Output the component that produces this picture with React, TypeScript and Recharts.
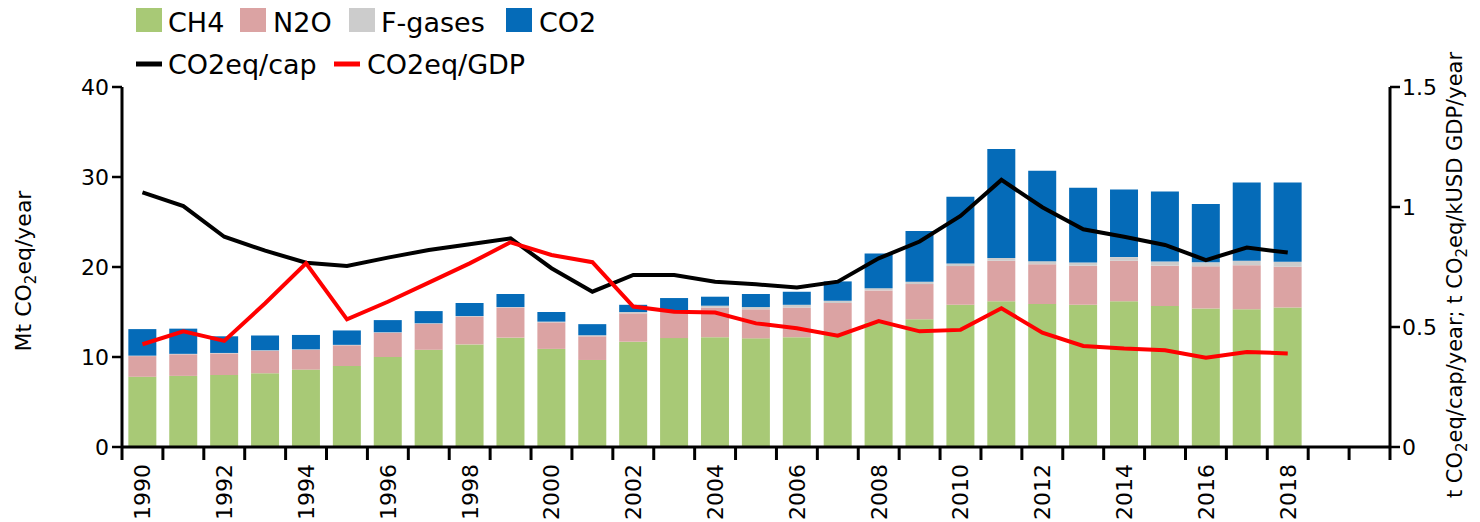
import { ComposedChart, Bar, Line, XAxis, YAxis } from "recharts";

const years = [
  "1990", "1991", "1992", "1993", "1994", "1995", "1996", "1997", "1998", "1999",
  "2000", "2001", "2002", "2003", "2004", "2005", "2006", "2007", "2008", "2009",
  "2010", "2011", "2012", "2013", "2014", "2015", "2016", "2017", "2018", "2019", "2020",
];
const ch4 = [
  7.8, 7.9, 8.0, 8.2, 8.6, 9.0, 10.0, 10.8, 11.4, 12.15,
  10.9, 9.67, 11.7, 12.1, 12.2, 12.07, 12.2, 12.55, 13.85, 14.2,
  15.8, 16.2, 15.9, 15.8, 16.2, 15.67, 15.4, 15.3, 15.5,
];
const n2o = [
  2.3, 2.4, 2.4, 2.5, 2.2, 2.3, 2.7, 2.9, 3.1, 3.35,
  2.95, 2.63, 3.15, 2.9, 3.3, 3.23, 3.3, 3.45, 3.55, 3.9,
  4.3, 4.5, 4.4, 4.35, 4.5, 4.48, 4.67, 4.9, 4.53,
];
const fgases = [
  0.05, 0.05, 0.05, 0.05, 0.05, 0.05, 0.05, 0.05, 0.05, 0.05,
  0.08, 0.12, 0.15, 0.15, 0.2, 0.25, 0.3, 0.25, 0.25, 0.25,
  0.3, 0.3, 0.35, 0.35, 0.4, 0.45, 0.45, 0.5, 0.55,
];
const co2 = [
  2.95, 2.8, 1.85, 1.65, 1.6, 1.6, 1.35, 1.35, 1.45, 1.45,
  1.07, 1.23, 0.8, 1.4, 1.0, 1.45, 1.45, 2.15, 3.85, 5.65,
  7.4, 12.1, 10.05, 8.3, 7.5, 7.8, 6.48, 8.7, 8.82,
];
const perCap = [
  1.061, 1.004, 0.876, 0.818, 0.768, 0.754, 0.789, 0.821, 0.845, 0.869,
  0.745, 0.647, 0.717, 0.717, 0.689, 0.678, 0.665, 0.689, 0.786, 0.856,
  0.963, 1.113, 0.999, 0.907, 0.876, 0.842, 0.779, 0.831, 0.81,
];
const perGdp = [
  0.428, 0.482, 0.442, 0.599, 0.765, 0.532, 0.605, 0.685, 0.765, 0.853,
  0.8, 0.77, 0.585, 0.564, 0.56, 0.515, 0.495, 0.464, 0.525, 0.482,
  0.488, 0.578, 0.476, 0.421, 0.41, 0.403, 0.372, 0.396, 0.39,
];
const leftTicks = [0, 10, 20, 30, 40];
const rightTicks = [0, 0.5, 1, 1.5];

const data = years.map((y, i) => ({
  year: y,
  ch4: ch4[i] ?? null,
  n2o: n2o[i] ?? null,
  fgases: fgases[i] ?? null,
  co2: co2[i] ?? null,
  perCap: perCap[i] ?? null,
  perGdp: perGdp[i] ?? null,
}));

const FONT = "'DejaVu Sans', sans-serif";
const PLOT_LEFT = 122;
const PLOT_RIGHT = 1390;
const BAND = (PLOT_RIGHT - PLOT_LEFT) / years.length;

const YearTick = (props: any) => {
  const { x, payload, index } = props;
  const y0 = 448;
  const yr = Number(payload.value);
  const showLabel = yr % 2 === 0 && yr <= 2018;
  return (
    <g>
      <line x1={x - BAND / 2} x2={x - BAND / 2} y1={y0} y2={y0 + 12} stroke="#000" strokeWidth={3} />
      {index === years.length - 1 && (
        <line x1={x + BAND / 2} x2={x + BAND / 2} y1={y0} y2={y0 + 12} stroke="#000" strokeWidth={3} />
      )}
      {showLabel && (
        <text
          x={x}
          y={y0 + 16}
          transform={`rotate(-90 ${x} ${y0 + 16})`}
          textAnchor="end"
          dy="0.36em"
          fontSize={22}
          fontFamily={FONT}
          fill="#000"
        >
          {payload.value}
        </text>
      )}
    </g>
  );
};

const legendBoxes = [
  { name: "CH4", color: "#a8c976", x: 136, text: 168 },
  { name: "N2O", color: "#dba3a3", x: 240, text: 273 },
  { name: "F-gases", color: "#cccccc", x: 349, text: 381 },
  { name: "CO2", color: "#056bb8", x: 506, text: 539 },
];
const legendLines = [
  { name: "CO2eq/cap", color: "#000000", x: 136, text: 168 },
  { name: "CO2eq/GDP", color: "#ff0000", x: 334, text: 367 },
];

const App = () => {
  return (
    <div style={{ position: "absolute", left: 0, top: 0, width: 1480, height: 522, background: "#fff" }}>
      <ComposedChart
        width={1480}
        height={522}
        data={data}
        margin={{ top: 87, right: 0, bottom: 0, left: 0 }}
        barCategoryGap="15.5%"
      >
        <XAxis
          dataKey="year"
          xAxisId="x"
          height={75}
          interval={0}
          tickLine={false}
          tick={<YearTick />}
          axisLine={{ stroke: "#000", strokeWidth: 3 }}
        />
        <YAxis
          yAxisId="left"
          width={122}
          domain={[0, 40]}
          ticks={leftTicks}
          tickSize={10}
          tickMargin={3}
          axisLine={{ stroke: "#000", strokeWidth: 3 }}
          tickLine={{ stroke: "#000", strokeWidth: 2.5 }}
          tick={{ fill: "#000", fontSize: 22, fontFamily: FONT }}
        />
        <YAxis
          yAxisId="right"
          orientation="right"
          width={90}
          domain={[0, 1.5]}
          ticks={rightTicks}
          tickSize={10}
          tickMargin={2}
          axisLine={{ stroke: "#000", strokeWidth: 3 }}
          tickLine={{ stroke: "#000", strokeWidth: 2.5 }}
          tick={{ fill: "#000", fontSize: 22, fontFamily: FONT }}
        />
        <Bar xAxisId="x" yAxisId="left" dataKey="ch4" stackId="g" fill="#a8c976" isAnimationActive={false} />
        <Bar xAxisId="x" yAxisId="left" dataKey="n2o" stackId="g" fill="#dba3a3" isAnimationActive={false} />
        <Bar xAxisId="x" yAxisId="left" dataKey="fgases" stackId="g" fill="#cccccc" isAnimationActive={false} />
        <Bar xAxisId="x" yAxisId="left" dataKey="co2" stackId="g" fill="#056bb8" isAnimationActive={false} />
        <Line
          xAxisId="x"
          yAxisId="right"
          dataKey="perCap"
          stroke="#000"
          strokeWidth={4}
          dot={false}
          type="linear"
          isAnimationActive={false}
        />
        <Line
          xAxisId="x"
          yAxisId="right"
          dataKey="perGdp"
          stroke="#ff0000"
          strokeWidth={4}
          dot={false}
          type="linear"
          isAnimationActive={false}
        />
      </ComposedChart>

      <svg
        width={1480}
        height={522}
        style={{ position: "absolute", left: 0, top: 0, pointerEvents: "none" }}
        fontFamily={FONT}
      >
        {legendBoxes.map((b) => (
          <g key={b.name}>
            <rect x={b.x} y={8} width={26} height={24} fill={b.color} />
            <text x={b.text} y={32} fontSize={27} fill="#000">
              {b.name}
            </text>
          </g>
        ))}
        {legendLines.map((l) => (
          <g key={l.name}>
            <line x1={l.x} x2={l.x + 26} y1={64} y2={64} stroke={l.color} strokeWidth={5} />
            <text x={l.text} y={74} fontSize={27} fill="#000">
              {l.name}
            </text>
          </g>
        ))}
        <text transform="translate(31 271) rotate(-90)" textAnchor="middle" fontSize={22} fill="#000">
          Mt CO<tspan fontSize={15} dy={5}>2</tspan>
          <tspan dy={-5}>eq/year</tspan>
        </text>
        <text transform="translate(1462 275) rotate(-90)" textAnchor="middle" fontSize={21} fill="#000">
          t CO<tspan fontSize={15} dy={5}>2</tspan>
          <tspan dy={-5}>eq/cap/year; t CO</tspan>
          <tspan fontSize={15} dy={5}>2</tspan>
          <tspan dy={-5}>eq/kUSD GDP/year</tspan>
        </text>
      </svg>
    </div>
  );
};

export default App;
